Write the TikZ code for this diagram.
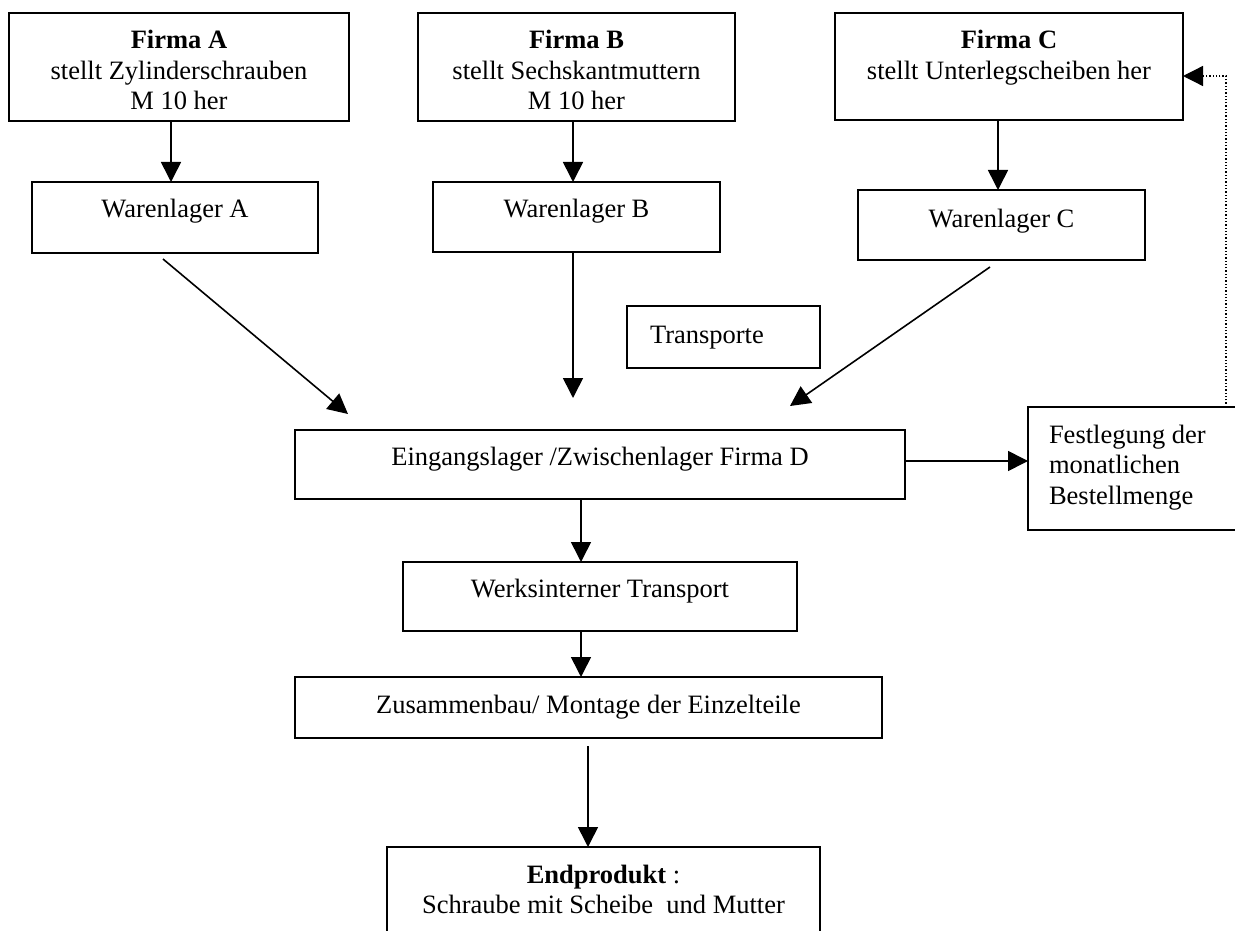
\documentclass[tikz,border=0pt]{standalone}
\usepackage{fontspec}
\setmainfont{Liberation Serif}
\usetikzlibrary{arrows.meta}
\newcommand{\bxc}[4]{\parbox[c][#2][t]{#1}{\centering\rule{0pt}{#3}#4\par}}
\newcommand{\bxl}[5]{\parbox[c][#2][t]{#1}{\raggedright\leftskip=#5\rule{0pt}{#3}#4\par}}
\begin{document}
\begin{tikzpicture}[x=1pt,y=-1pt,
  bx/.style={draw, line width=2pt, inner sep=0pt, outer sep=0pt, anchor=north west,
    font=\fontsize{26.5}{30.5}\selectfont},
  arr/.style={line width=1.6pt, -{Triangle[length=20pt,width=20pt]}},
  dotarr/.style={line width=1.3pt, dotted, -{Triangle[length=20pt,width=20pt]}}]
\useasboundingbox (0,0) rectangle (1235,931);
\clip (0,0) rectangle (1235,931);
\fill[white] (0,0) rectangle (1235,931);
% boxes
\node[bx] (fa) at (9,13) {\bxc{340pt}{108pt}{36pt}{\textbf{Firma A}\\stellt Zylinderschrauben\\M 10 her}};
\node[bx] (fb) at (418,13) {\bxc{317pt}{108pt}{36pt}{\textbf{Firma B}\\stellt Sechskantmuttern\\M 10 her}};
\node[bx] (fc) at (835,13) {\bxc{348pt}{107pt}{36pt}{\textbf{Firma C}\\stellt Unterlegscheiben her}};
\node[bx] (wa) at (32,182) {\bxc{286pt}{71pt}{36pt}{Warenlager A}};
\node[bx] (wb) at (433,182) {\bxc{287pt}{70pt}{36pt}{Warenlager B}};
\node[bx] (wc) at (858,190) {\bxc{287pt}{70pt}{37pt}{Warenlager C}};
\node[bx] (tr) at (627,306) {\bxl{193pt}{62pt}{37pt}{Transporte}{23pt}};
\node[bx] (ein) at (295,430) {\bxc{610pt}{69pt}{35pt}{Eingangslager /Zwischenlager Firma D}};
\node[bx] (fest) at (1028,407) {\bxl{210pt}{123pt}{36pt}{Festlegung der\\monatlichen\\Bestellmenge}{21pt}};
\node[bx] (werk) at (403,562) {\bxc{394pt}{69pt}{35pt}{Werksinterner Transport}};
\node[bx] (zus) at (295,677) {\bxc{587pt}{61pt}{36pt}{Zusammenbau/ Montage der Einzelteile}};
\node[bx] (end) at (387,847) {\bxc{433pt}{110pt}{36pt}{\textbf{Endprodukt} :\\Schraube mit Scheibe\ \ und Mutter}};
% helper coordinates
\coordinate (xA) at (171,0);
\coordinate (xB) at (573,0);
\coordinate (xC) at (998,0);
\coordinate (xD) at (581,0);
\coordinate (xE) at (588,0);
\coordinate (aS) at (163,259);
\coordinate (aT) at (348,414);
\coordinate (bT) at (573,398);
\coordinate (cS) at (990,267);
\coordinate (cT) at (790,406);
\coordinate (zS) at (588,746);
\coordinate (dotC) at (1226,76);
% connectors
\draw[arr] (fa.south -| xA) -- (wa.north -| xA);
\draw[arr] (fb.south -| xB) -- (wb.north -| xB);
\draw[arr] (fc.south -| xC) -- (wc.north -| xC);
\draw[arr] (aS) -- (aT);
\draw[arr] (wb.south -| xB) -- (bT);
\draw[arr] (cS) -- (cT);
\draw[arr] (ein.east |- 0,461) -- (fest.west |- 0,461);
\draw[dotarr] (fest.north -| dotC) -- (dotC) -- (fc.east |- dotC);
\draw[arr] (ein.south -| xD) -- (werk.north -| xD);
\draw[arr] (werk.south -| xD) -- (zus.north -| xD);
\draw[arr] (zS) -- (end.north -| xE);
\end{tikzpicture}
\end{document}
